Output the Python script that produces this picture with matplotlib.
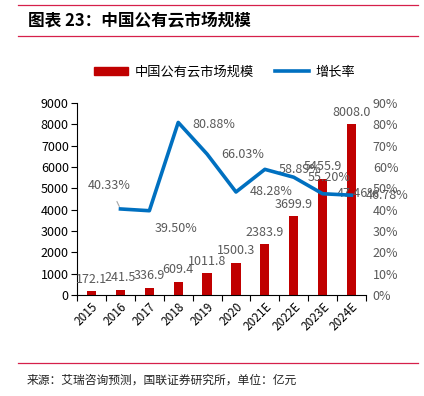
import matplotlib
matplotlib.use('Agg')
import matplotlib.pyplot as plt
import matplotlib.ticker as mtick
from matplotlib.lines import Line2D
from matplotlib.patches import Patch
import numpy as np

plt.rcParams['font.family'] = ['Noto Sans CJK SC', 'DejaVu Sans']

# Data
years = ['2015', '2016', '2017', '2018', '2019', '2020', '2021E', '2022E', '2023E', '2024E']
market = [172.1, 241.5, 336.9, 609.4, 1011.8, 1500.3, 2383.9, 3699.9, 5455.9, 8008.0]
growth = [np.nan, 40.33, 39.50, 80.88, 66.03, 48.28, 58.89, 55.20, 47.46, 46.78]

title = '图表 23：中国公有云市场规模'
source = '来源：艾瑞咨询预测，国联证券研究所，单位：亿元'

red = '#C00000'
blue = '#0070C0'
gray = '#595959'
line_red = '#D6204A'

fig = plt.figure(figsize=(4.24, 3.96), dpi=100)
ax = fig.add_axes([0.182, 0.255, 0.681, 0.485])
ax2 = ax.twinx()

x = np.arange(len(years))
ax.bar(x, market, width=0.32, color=red, zorder=2)
ax.set_ylim(0, 9000)
ax.set_xlim(-0.5, len(years) - 0.5)
ax.yaxis.set_major_locator(mtick.MultipleLocator(1000))

# x ticks at category boundaries, labels at centers
ax.set_xticks(np.arange(-0.5, len(years), 1.0))
ax.set_xticklabels([])
ax.set_xticks(x, minor=True)
ax.set_xticklabels(years, minor=True, rotation=45, ha='right', rotation_mode='anchor', fontsize=8.5)
ax.tick_params(axis='x', which='minor', length=0, pad=4)
ax.tick_params(axis='x', which='major', length=4, direction='out', color='black')
ax.tick_params(axis='y', labelsize=9, length=4, direction='out', pad=2)

for s in ['top', 'right']:
    ax.spines[s].set_visible(False)
for s in ['top', 'right', 'left', 'bottom']:
    ax2.spines[s].set_visible(False)

for xi, v in zip(x, market):
    ax.annotate(f'{v:.1f}', (xi, v), xytext=(0, 4), textcoords='offset points',
                ha='center', va='bottom', fontsize=9, color=gray, zorder=3)

g = np.array(growth) / 100
ax2.plot(x, g, color=blue, linewidth=2.6, zorder=4)
ax2.set_ylim(0, 0.9)
ax2.yaxis.set_major_locator(mtick.MultipleLocator(0.1))
ax2.yaxis.set_major_formatter(mtick.PercentFormatter(1.0, 0))
ax2.tick_params(axis='y', labelsize=9, length=0, pad=5, labelcolor=gray)

px = 0.72  # points per pixel at 100 dpi
for i, v in enumerate(growth):
    if np.isnan(v):
        continue
    lbl = f'{v:.2f}%'
    if i == 1:
        ax2.annotate(lbl, (x[i], v / 100), xytext=(-11 * px, 23 * px), textcoords='offset points',
                     ha='center', va='center', fontsize=9, color=gray,
                     arrowprops=dict(arrowstyle='-', color='#A6A6A6', lw=0.8, shrinkA=5, shrinkB=2))
    elif i == 2:
        ax2.annotate(lbl, (x[i], v / 100), xytext=(5 * px, -18 * px), textcoords='offset points',
                     ha='left', va='center', fontsize=9, color=gray)
    else:
        ax2.annotate(lbl, (x[i], v / 100), xytext=(14 * px, -2 * px if i == 3 else 0),
                     textcoords='offset points', ha='left', va='center', fontsize=9, color=gray)

# legend
handles = [Patch(color=red), Line2D([0], [0], color=blue, linewidth=2.6)]
fig.legend(handles, ['中国公有云市场规模', '增长率'], loc='center', bbox_to_anchor=(0.53, 0.818),
           ncol=2, frameon=False, fontsize=9.5, handlelength=2.6, handleheight=0.5,
           columnspacing=1.6, handletextpad=0.5)

# header / footer
fig.add_artist(Line2D([18 / 424, 418 / 424], [1 - 5 / 396, 1 - 5 / 396], color=line_red, lw=0.9))
fig.add_artist(Line2D([18 / 424, 418 / 424], [1 - 36 / 396, 1 - 36 / 396], color=line_red, lw=0.9))
fig.add_artist(Line2D([18 / 424, 418 / 424], [1 - 363 / 396, 1 - 363 / 396], color=line_red, lw=0.9))
fig.text(28 / 424, 1 - 21 / 396, title, fontsize=12, fontweight='bold', fontstyle='italic',
         va='center', ha='left')
fig.text(27 / 424, 1 - 380 / 396, source, fontsize=8.5, va='center', ha='left', color='#222222')

fig.savefig('out.png', dpi=100)
